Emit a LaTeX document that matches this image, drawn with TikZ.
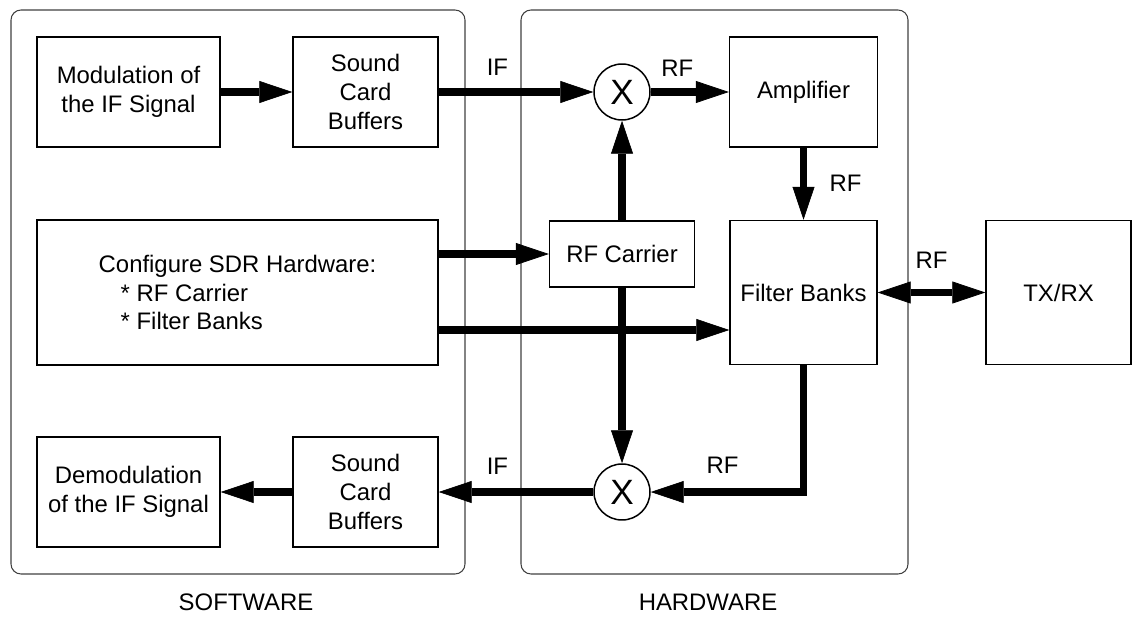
\documentclass[tikz,border=0pt]{standalone}
\usepackage{fontspec}
\setmainfont{Liberation Sans}
\usetikzlibrary{arrows.meta}

\begin{document}
\begin{tikzpicture}[x=0.02cm,y=-0.02cm,line join=miter,
  font=\fontsize{13.6}{16.4}\selectfont,
  block/.style={draw,line width=0.85pt,align=center,inner sep=0pt},
  mixer/.style={draw,circle,line width=0.85pt,minimum size=1.12cm,inner sep=0pt,
    font=\fontsize{20}{20}\selectfont},
  sig/.style={line width=4pt,-{Triangle[length=0.66cm,width=0.44cm,line width=0.4pt]}},
  bisig/.style={line width=4pt,{Triangle[length=0.66cm,width=0.44cm,line width=0.4pt]}-{Triangle[length=0.66cm,width=0.44cm,line width=0.4pt]}},
  lbl/.style={inner sep=2pt},
  zone/.style={draw=black!75,line width=0.6pt,rounded corners=0.2cm}]

\useasboundingbox (0,0) rectangle (1132,618);

% -----------------------
% Software / hardware zones
% -----------------------
\draw[zone] (11,10) rectangle (465,574);
\draw[zone] (521,10) rectangle (908,574);
\node (swlbl) at (246,602) {SOFTWARE};
\node (hwlbl) at (708,602) {HARDWARE};

% -----------------------
% Software blocks
% -----------------------
\node[block,minimum width=3.66cm,minimum height=2.2cm] (mod) at (128.5,92) {Modulation of\\the IF Signal};
\node[block,minimum width=2.9cm,minimum height=2.2cm] (scbT) at (365.5,92) {Sound\\Card\\Buffers};
\node[block,minimum width=8.02cm,minimum height=2.9cm,align=left] (cfg) at (237.5,292.5)
  {Configure SDR Hardware:\\\hspace*{0.44cm}* RF Carrier\\\hspace*{0.44cm}* Filter Banks};
\node[block,minimum width=3.66cm,minimum height=2.2cm] (demod) at (128.5,492) {Demodulation\\of the IF Signal};
\node[block,minimum width=2.9cm,minimum height=2.2cm] (scbB) at (365.5,492) {Sound\\Card\\Buffers};

% -----------------------
% Hardware blocks
% -----------------------
\node[mixer] (mixT) at (622,92) {X};
\node[mixer] (mixB) at (622,492) {X};
\node[block,minimum width=2.96cm,minimum height=2.2cm] (amp) at (803.5,92) {Amplifier};
\node[block,minimum width=2.9cm,minimum height=1.32cm] (carrier) at (622,254) {RF Carrier};
\node[block,minimum width=2.94cm,minimum height=2.88cm] (filt) at (803.5,292.5) {Filter Banks};
\node[block,minimum width=2.9cm,minimum height=2.88cm] (trx) at (1058.5,292.5) {TX/RX};

% -----------------------
% Signal paths
% -----------------------
\draw[sig] (mod) -- (scbT);
\draw[sig] (scbT) -- node[lbl,above=5.6pt,pos=0.38] {IF} (mixT);
\draw[sig] (mixT) -- node[lbl,above=4.8pt,pos=0.34] {RF} (amp);
\draw[sig] (amp) -- node[lbl,right=10.8pt,pos=0.5] {RF} (filt);
\draw[sig] (carrier) -- (mixT);
\draw[sig] (carrier) -- (mixB);
\draw[sig] (cfg.east |- carrier) -- (carrier);
\draw[sig] ([yshift=-0.75cm]cfg.east) -- ([yshift=-0.75cm]filt.west);
\draw[bisig] (filt) -- node[lbl,above=9.5pt] {RF} (trx);
\draw[sig] (filt.south) |- node[lbl,above=6.4pt,pos=0.765] {RF} (mixB.east);
\draw[sig] (mixB) -- node[lbl,above=6pt,pos=0.62] {IF} (scbB);
\draw[sig] (scbB) -- (demod);

\end{tikzpicture}
\end{document}
